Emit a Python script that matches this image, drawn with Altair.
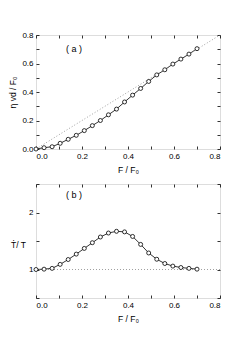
import altair as alt
import pandas as pd

# ---- data ----
F = [0.0, 0.035, 0.07, 0.105, 0.14, 0.175, 0.21, 0.245, 0.28, 0.315, 0.35,
     0.385, 0.42, 0.455, 0.49, 0.525, 0.56, 0.595, 0.63, 0.665, 0.7]
vd = [0.0, 0.009, 0.016, 0.04, 0.068, 0.096, 0.129, 0.164, 0.20, 0.24, 0.28,
      0.33, 0.378, 0.425, 0.474, 0.52, 0.556, 0.596, 0.631, 0.666, 0.704]
Tr = [1.0, 1.006, 1.02, 1.09, 1.175, 1.27, 1.37, 1.47, 1.57, 1.64, 1.67,
      1.66, 1.58, 1.44, 1.29, 1.18, 1.105, 1.06, 1.035, 1.02, 1.006]
ref_x = [0.0, 0.8]
ref_a = [0.0, 0.8]
ref_b = [1.0, 1.0]
x_ticks = [0.0, 0.1, 0.2, 0.3, 0.4, 0.5, 0.6, 0.7, 0.8]
ya_ticks = [0.0, 0.1, 0.2, 0.3, 0.4, 0.5, 0.6, 0.7, 0.8]
yb_ticks = [0.5, 1.0, 1.5, 2.0, 2.5]
label_a = {"x": [0.13], "y": [0.7], "t": ["( a )"]}
label_b = {"x": [0.13], "y": [2.3], "t": ["( b )"]}

FONT = "Liberation Sans, DejaVu Sans, Arial, sans-serif"
TS = 3
W, H = 184, 114

even_expr = "round(datum.value*10) % 2 == 0 ? format(datum.value, '.1f') : ''"
int_expr = "round(datum.value*2) % 2 == 0 ? format(datum.value, 'd') : ''"


def ax(orient, values, labels=True, expr=None, title=None, **kw):
    d = dict(orient=orient, values=values, tickSize=TS, offset=-TS, domain=False,
             grid=False, labels=labels, tickColor="black", tickWidth=0.8,
             labelFontSize=8, labelColor="black", labelFont=FONT,
             labelPadding=3, titleFontSize=8.5, titleFont=FONT,
             titleFontWeight="normal", titleColor="black")
    if expr:
        d["labelExpr"] = expr
    if title is not None:
        d["title"] = title
    else:
        d["title"] = None
    d.update(kw)
    return alt.Axis(**d)


def panel(ydata, ydom, yticks, yexpr, ytitle, refy, lab, yaxis_kw):
    df = pd.DataFrame({"F": F, "y": ydata})
    rf = pd.DataFrame({"F": ref_x, "y": refy})
    lb = pd.DataFrame(lab)
    xs = alt.Scale(domain=[0, 0.8], nice=False)
    ys = alt.Scale(domain=ydom, nice=False, zero=False)

    main = alt.Chart(df).mark_line(color="black", strokeWidth=0.8).encode(
        x=alt.X("F:Q", scale=xs, axis=ax("bottom", x_ticks, expr=even_expr, title="F / F₀", titlePadding=5)),
        y=alt.Y("y:Q", scale=ys, axis=ax("left", yticks, expr=yexpr, title=ytitle, **yaxis_kw)),
    )
    mirror = alt.Chart(rf).mark_line(color="#888888", strokeWidth=0.8, strokeDash=[1, 2]).encode(
        x=alt.X("F:Q", scale=xs, axis=ax("top", x_ticks, labels=False)),
        y=alt.Y("y:Q", scale=ys, axis=ax("right", yticks, labels=False)),
    )
    pts = alt.Chart(df).mark_point(shape="circle", filled=True, fill="white", stroke="black",
                                   strokeWidth=0.8, size=16, opacity=1).encode(
        x=alt.X("F:Q", scale=xs, axis=None),
        y=alt.Y("y:Q", scale=ys, axis=None),
    )
    txt = alt.Chart(lb).mark_text(font=FONT, fontSize=9, color="black", align="left").encode(
        x=alt.X("x:Q", scale=xs, axis=None),
        y=alt.Y("y:Q", scale=ys, axis=None),
        text="t:N",
    )
    return alt.layer(main, mirror, pts, txt).resolve_axis(x="independent", y="independent").properties(
        width=W, height=H)


pa = panel(vd, [0, 0.8], ya_ticks, even_expr, "η vd / F₀", ref_a, label_a, {"titlePadding": 4})
pb = panel(Tr, [0.5, 2.5], yb_ticks, int_expr, "Ṫ/ T", ref_b, label_b,
           {"titleAngle": 0, "titleAlign": "center", "titleBaseline": "middle", "titleX": -21, "titleY": 60})

chart = alt.vconcat(pa, pb, spacing=9).properties(
    padding={"left": 0, "top": 22, "right": 5, "bottom": 5}
).configure_view(stroke="black", strokeWidth=1).configure(background="white")

chart.save("out.html", embed_options={"renderer": "svg", "actions": False})
